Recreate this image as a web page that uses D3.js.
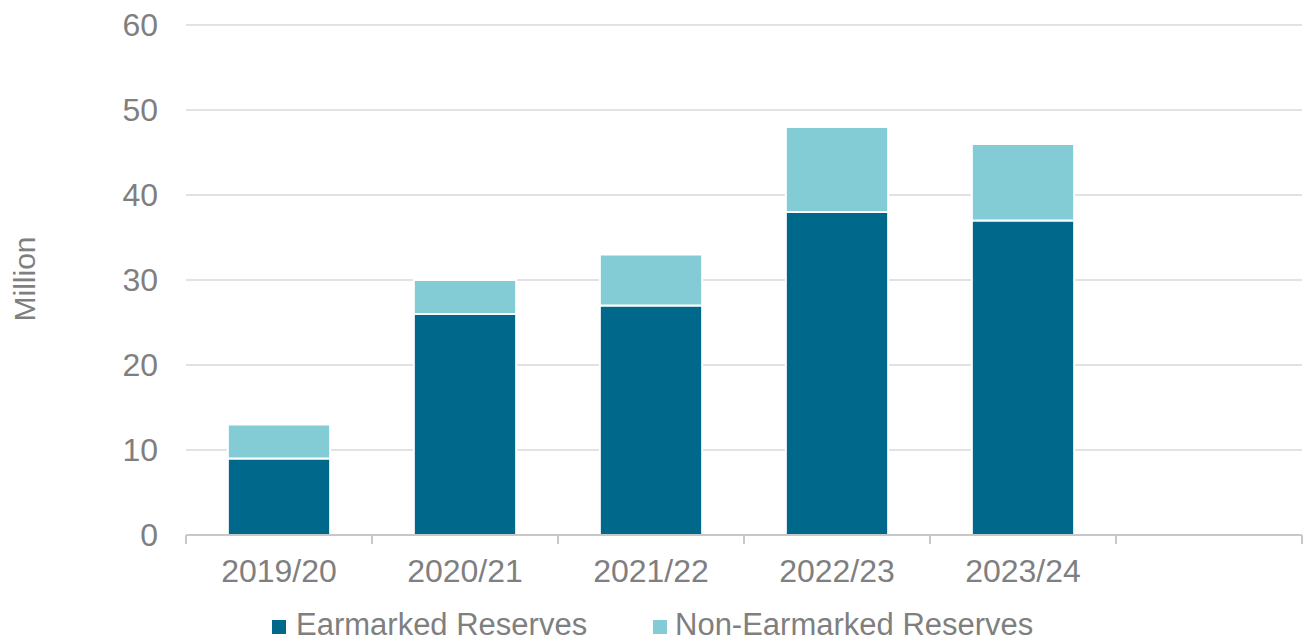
<!DOCTYPE html>
<html>
<head>
<meta charset="utf-8">
<script src="https://cdn.jsdelivr.net/npm/d3@7"></script>
<style>
  body { margin: 0; background: #fff; }
  text { font-family: "Liberation Sans", Arial, sans-serif; fill: #7f7f7f; }
</style>
</head>
<body>
<div id="chart"></div>
<script>
let width = 1306
let height = 643
let margin = { left: 186, right: 4, top: 25, bottom: 108 }

// data
let years = ["2019/20", "2020/21", "2021/22", "2022/23", "2023/24", ""]
let earmarked = [9, 26, 27, 38, 37]
let nonEarmarked = [4, 4, 6, 10, 9]
let yTicks = [0, 10, 20, 30, 40, 50, 60]
let seriesNames = ["Earmarked Reserves", "Non-Earmarked Reserves"]
let colors = ["#00688b", "#83cbd5"]

let rows = earmarked.map((v, i) => ({ year: years[i], earmarked: v, nonEarmarked: nonEarmarked[i] }))
let stack = d3.stack().keys(["earmarked", "nonEarmarked"])(rows)

let svg = d3.select("#chart").append("svg")
  .attr("width", width)
  .attr("height", height)

let xScale = d3.scaleBand(years, [margin.left, width - margin.right])
  .paddingInner(0.45)
  .paddingOuter(0.225)

let yScale = d3.scaleLinear([0, 60], [height - margin.bottom, margin.top])

// gridlines
svg.append("g")
  .selectAll("line")
  .data(yTicks.slice(1))
  .enter()
  .append("line")
  .attr("x1", margin.left)
  .attr("x2", width - margin.right)
  .attr("y1", d => yScale(d))
  .attr("y2", d => yScale(d))
  .attr("stroke", "#d9d9d9")
  .attr("stroke-width", 1.5)

// y tick labels
svg.append("g")
  .selectAll("text")
  .data(yTicks)
  .enter()
  .append("text")
  .attr("x", 158)
  .attr("y", d => yScale(d))
  .attr("dy", "0.35em")
  .attr("text-anchor", "end")
  .style("font-size", "32px")
  .text(d => d)

// bars
svg.append("g")
  .selectAll("g")
  .data(stack)
  .enter()
  .append("g")
  .attr("fill", (d, i) => colors[i])
  .selectAll("rect")
  .data(d => d)
  .enter()
  .append("rect")
  .attr("x", d => xScale(d.data.year))
  .attr("width", xScale.bandwidth())
  .attr("y", d => yScale(d[1]))
  .attr("height", d => yScale(d[0]) - yScale(d[1]))
  .attr("stroke", "#ffffff")
  .attr("stroke-width", 2)

// x axis line with ticks between categories
let step = xScale.step()
let x0 = margin.left
let bounds = d3.range(years.length + 1).map(i => x0 + i * step)
let axisY = yScale(0)

svg.append("line")
  .attr("x1", x0)
  .attr("x2", width - margin.right)
  .attr("y1", axisY)
  .attr("y2", axisY)
  .attr("stroke", "#c8c8c8")
  .attr("stroke-width", 2)

svg.append("g")
  .selectAll("line")
  .data(bounds)
  .enter()
  .append("line")
  .attr("x1", d => d)
  .attr("x2", d => d)
  .attr("y1", axisY)
  .attr("y2", axisY + 9)
  .attr("stroke", "#c8c8c8")
  .attr("stroke-width", 2)

// x labels
svg.append("g")
  .selectAll("text")
  .data(years.filter(d => d))
  .enter()
  .append("text")
  .attr("x", d => xScale(d) + xScale.bandwidth() / 2)
  .attr("y", 582)
  .attr("text-anchor", "middle")
  .style("font-size", "32px")
  .text(d => d)

// y axis title
svg.append("text")
  .attr("transform", "translate(35,279) rotate(-90)")
  .attr("text-anchor", "middle")
  .style("font-size", "30px")
  .text("Million")

// legend, nudged up just enough to stay inside the frame
let legendX = [272, 653]
let legend = svg.append("g")
  .selectAll("g")
  .data(seriesNames)
  .enter()
  .append("g")
  .attr("transform", (d, i) => "translate(" + legendX[i] + ",0)")

legend.append("rect")
  .attr("x", 0)
  .attr("y", 620)
  .attr("width", 14)
  .attr("height", 14)
  .attr("fill", (d, i) => colors[i])

legend.append("text")
  .attr("x", (d, i) => i == 0 ? 24 : 22)
  .attr("y", 635)
  .style("font-size", "31px")
  .text(d => d)
</script>
</body>
</html>
